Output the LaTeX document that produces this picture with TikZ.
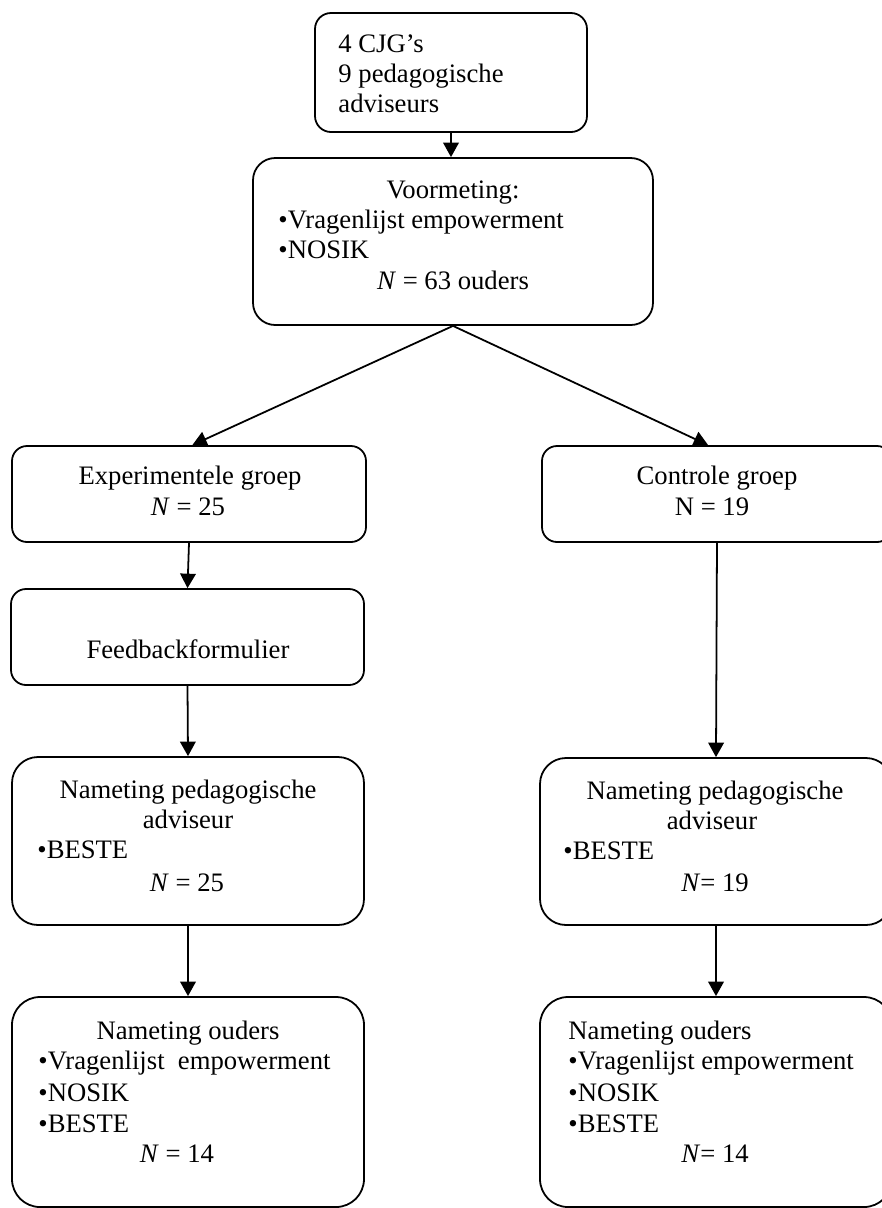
\documentclass[tikz,border=0pt]{standalone}
\usepackage{fontspec}
\setmainfont{Liberation Serif}
\usetikzlibrary{fit,arrows.meta}
\begin{document}
\begin{tikzpicture}[x=0.45pt,y=-0.45pt,
  box/.style={draw,line width=0.8pt,inner sep=0pt,fit={#1}},
  txt/.style={inner sep=0pt,font=\fontsize{12}{13.8}\selectfont},
  lt/.style={txt,anchor=base west},
  ct/.style={txt,anchor=base},
  conn/.style={line width=0.8pt},
  arr/.style={conn,-{Triangle[width=7pt,length=6.5pt]}}]
\useasboundingbox (0,0) rectangle (881,1208);
% boxes
\node[box={(315,13) (587,132)},rounded corners=7.2pt] (top) {};
\node[box={(253,158) (653,325)},rounded corners=10pt] (voor) {};
\node[box={(12,446) (366,542)},rounded corners=6.75pt] (exp) {};
\node[box={(11,589) (364,685)},rounded corners=6.75pt] (fb) {};
\node[box={(12,757) (364,925)},rounded corners=11.7pt] (pedL) {};
\node[box={(12,997) (364,1207)},rounded corners=12.6pt] (oudL) {};
\node[box={(542,446) (892,542)},rounded corners=6.75pt] (ctrl) {};
\node[box={(540,758) (892,925)},rounded corners=11.7pt] (pedR) {};
\node[box={(540,997) (892,1207)},rounded corners=12.6pt] (oudR) {};
% texts
\node[lt] (t1) at (338,52) {4 CJG’s};
\node[lt] (t2) at (338,82) {9 pedagogische};
\node[lt] (t3) at (338,112) {adviseurs};
\node[ct] (v1) at (453,198) {Voormeting:};
\node[lt] (v2) at (278,228) {•Vragenlijst empowerment};
\node[lt] (v3) at (278,258) {•NOSIK};
\node[ct] (v4) at (453,289) {\textit{N} = 63 ouders};
\node[ct] (e1) at (190,484) {Experimentele groep};
\node[ct] (e2) at (188,515) {\textit{N} = 25};
\node[ct] (f1) at (188,658) {Feedbackformulier};
\node[ct] (pl1) at (188,798) {Nameting pedagogische};
\node[ct] (pl2) at (188,828) {adviseur};
\node[lt] (pl3) at (37,858) {•BESTE};
\node[ct] (pl4) at (187,891) {\textit{N} = 25};
\node[ct] (ol1) at (188,1039) {Nameting ouders};
\node[lt] (ol2) at (38,1069) {•Vragenlijst\ \ empowerment};
\node[lt] (ol3) at (38,1101) {•NOSIK};
\node[lt] (ol4) at (38,1132) {•BESTE};
\node[ct] (ol5) at (177,1162) {\textit{N} = 14};
\node[ct] (c1) at (717,484) {Controle groep};
\node[ct] (c2) at (712,515) {N = 19};
\node[ct] (pr1) at (715,799) {Nameting pedagogische};
\node[ct] (pr2) at (712,829) {adviseur};
\node[lt] (pr3) at (563,859) {•BESTE};
\node[ct] (pr4) at (715,891) {\textit{N}= 19};
\node[lt] (or1) at (568,1039) {Nameting ouders};
\node[lt] (or2) at (568,1069) {•Vragenlijst empowerment};
\node[lt] (or3) at (568,1101) {•NOSIK};
\node[lt] (or4) at (568,1132) {•BESTE};
\node[ct] (or5) at (715,1162) {\textit{N}= 14};
% connectors
\draw[arr] (top.south) -- (top.south |- voor.north);
\draw[arr] (voor.south) -- ([xshift=1.5pt]exp.north);
\draw[arr] (voor.south) -- ([xshift=-4pt]ctrl.north);
\draw[arr] (exp.south) -- (fb.north);
\draw[arr] (fb.south) -- (pedL.north);
\draw[arr] (pedL.south) -- (oudL.north);
\draw[arr] (ctrl.south) -- (pedR.north);
\draw[arr] (pedR.south) -- (oudR.north);
\end{tikzpicture}
\end{document}
